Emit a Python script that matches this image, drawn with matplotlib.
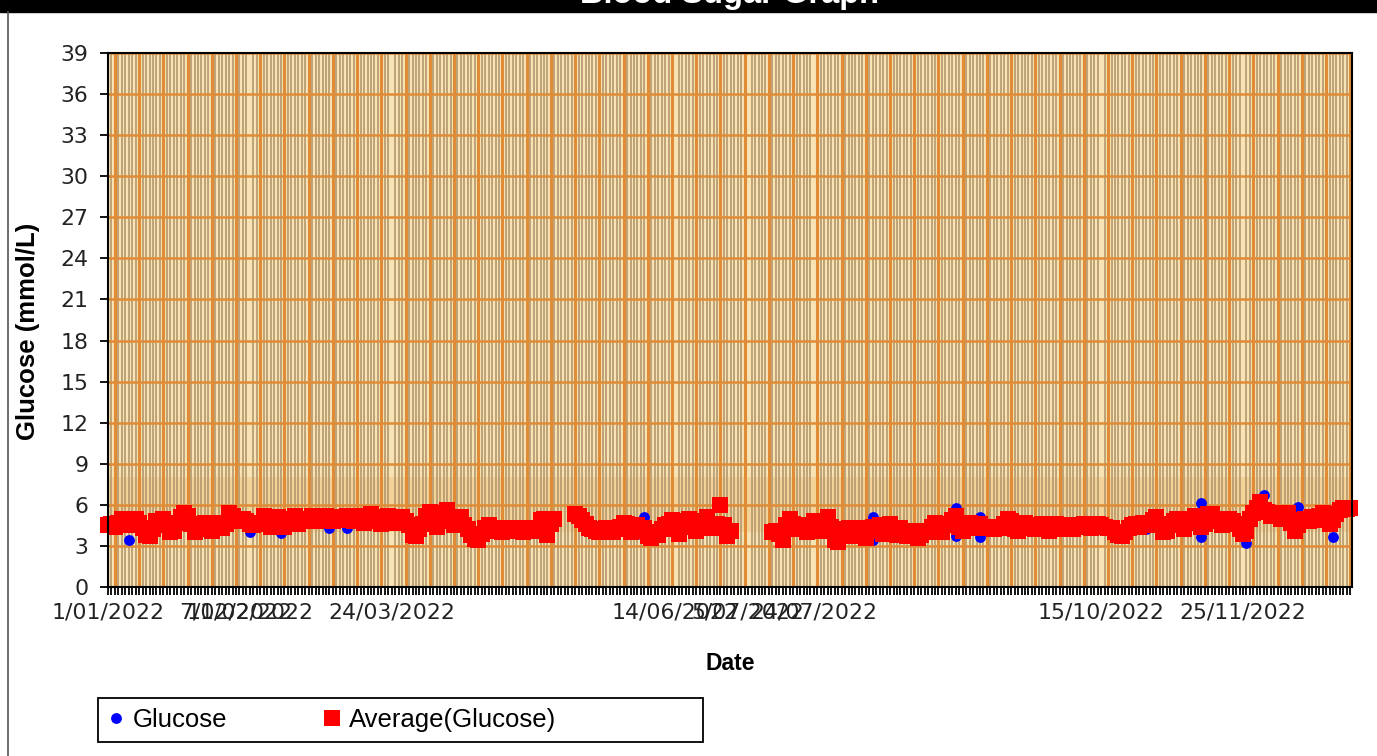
import numpy as np
import matplotlib.pyplot as plt
from matplotlib.patches import Rectangle
from matplotlib.lines import Line2D

# daily average glucose (mmol/L), day 0 = 1/01/2022, None = no reading
avg_glucose = [
    4.5, 4.6, 4.4, 4.7,                                   # 0-3
    5.0, 4.6, 4.5, 4.8, 5.0, 4.7,                         # 4-9
    4.3, 3.8, 3.7, 4.2, 4.8, 4.5,                         # 10-15
    5.0, 4.6, 4.0, 4.1, 4.7, 5.1,                         # 16-21
    5.4, 5.2, 4.6, 4.0, 4.2, 4.4,                         # 22-27
    4.7, 4.4, 4.1, 4.5, 4.7, 4.3, 4.6,                    # 28-34
    5.4, 5.2, 4.9, 4.8, 5.0,                              # 35-39
    4.8, 4.6, 4.5, 4.7, 4.6,                              # 40-44
    5.2, 4.9, 4.4, 4.6, 5.1, 4.8, 4.4, 4.7, 5.0, 5.2, 4.6, 4.8,   # 45-56
    5.0, 4.9, 5.2, 4.8, 4.9, 5.1, 5.2, 4.9, 4.8, 5.1, 5.0, 4.9,   # 57-68
    5.2, 5.0, 4.8, 5.1, 5.2, 4.7, 4.9, 5.3, 5.1, 4.8,     # 69-78
    4.6, 4.9, 5.2, 5.0, 4.7, 4.9, 5.1, 4.8, 4.5,          # 79-87
    3.8, 3.7, 4.2,                                        # 88-90
    4.6, 5.2, 5.5, 4.9, 4.4, 4.8, 5.4, 5.6, 5.0, 4.5, 4.8, 5.1,   # 91-102
    4.5, 4.2, 3.8, 3.5, 3.4, 3.9, 4.3, 4.5, 4.1,          # 103-111
    4.2, 4.3, 4.0, 4.1, 4.3, 4.2, 4.1, 4.3, 4.0, 4.2, 4.3, 4.1, 4.2,  # 112-124
    4.9, 5.0, 3.8, 4.6, 5.0,                              # 125-129
    None, None, None, None, None,                         # 130-134
    5.3, 5.2, 4.9, 4.6, 4.3,                              # 135-139
    4.2, 4.1, 4.0, 4.2, 4.3, 4.1, 4.0, 4.2, 4.4,          # 140-148
    4.7, 4.6, 4.0, 4.1, 4.5, 4.2,                         # 149-154
    4.3, 3.7, 3.6, 4.0, 3.8, 4.2, 4.5,                    # 155-161
    4.6, 4.9, 4.2, 3.9, 4.4, 4.8, 5.0, 4.5, 4.1, 4.3, 4.8, 5.1, 4.6,  # 162-174
    4.3, 4.6, 6.0, 4.5, 3.7, 4.1,                         # 175-180
    None, None, None, None, None, None, None, None, None, None, None,  # 181-191
    4.0, 4.1, 3.9, 3.4, 4.5, 5.0, 4.6, 4.2,               # 192-199
    4.2, 4.5, 4.0, 4.3, 4.8, 4.6, 4.1,                    # 200-206
    4.6, 5.1, 4.4, 3.4, 3.3, 4.0,                         # 207-212
    4.2, 4.3, 3.7, 4.0, 4.3, 4.0, 3.6, 4.1,               # 213-220
    4.4, 4.2, 4.5, 3.9, 4.2, 4.6, 4.0, 3.8, 4.3,          # 221-229
    3.9, 3.7, 4.1, 4.0, 3.6, 3.8, 4.1, 4.0,               # 230-237
    4.4, 4.7, 4.2, 4.0, 4.5, 4.6,                         # 238-243
    4.9, 5.2, 4.4, 4.1, 4.6,                              # 244-248
    4.7, 4.5, 4.3, 4.6, 4.4,                              # 249-253
    4.4, 4.3, 4.2, 4.4, 4.3,                              # 254-258
    4.6, 5.0, 4.8, 4.2, 4.1, 4.5, 4.7, 4.3,               # 259-266
    4.5, 4.2, 4.4, 4.6, 4.3, 4.1, 4.5, 4.6, 4.2, 4.4, 4.5, 4.3, 4.2,  # 267-279
    4.5, 4.4, 4.6, 4.5, 4.3, 4.4, 4.6, 4.5, 4.4, 4.3,     # 280-289
    4.3, 4.0, 3.8, 3.7, 4.0, 4.3,                         # 290-295
    4.5, 4.6, 4.4, 4.7, 4.6, 4.5,                         # 296-301
    4.9, 5.1, 4.6, 4.0, 4.1, 4.5, 4.8, 5.0, 4.6, 4.2, 4.7,  # 302-312
    5.0, 5.2, 4.8, 4.4, 4.6, 5.3,                         # 313-318
    5.3, 5.0, 4.8, 4.5, 4.7, 5.0,                         # 319-324
    4.8, 4.6, 4.2, 3.9, 4.1,                              # 325-329
    5.0, 5.4, 5.8, 6.2, 5.6,                              # 330-334
    5.5, 5.2, 5.4, 5.3, 5.0, 5.2,                         # 335-340
    5.4, 4.7, 4.1, 4.5, 4.9,                              # 341-345
    5.0, 4.8, 5.1, 4.9, 5.2,                              # 346-350
    5.4, 5.0, 4.6, 4.9,                                   # 351-354
    5.3, 5.6, 5.8, 5.7, 5.8,                              # 355-359
]

# individual readings that show outside the average squares
glucose_days = [6, 41, 50, 64, 69, 155, 155, 221, 221, 245, 245,
                252, 252, 300, 316, 316, 329, 334, 344, 354]
glucose_vals = [3.4, 4.0, 3.95, 4.3, 4.3, 5.1, 3.65, 5.1, 3.4, 5.8, 3.7,
                5.1, 3.65, 4.2, 6.1, 3.65, 3.2, 6.7, 5.85, 3.65]

tick_days = [0, 37, 41, 82, 164, 185, 204, 287, 328]
tick_labels = ['1/01/2022', '7/02/2022', '11/02/2022', '24/03/2022',
               '14/06/2022', '5/07/2022', '24/07/2022', '15/10/2022',
               '25/11/2022']

avg = np.array(avg_glucose, dtype=float)
days = np.arange(len(avg))

W, H = 1377, 756
fig = plt.figure(figsize=(W / 100, H / 100), dpi=100)
ax = fig.add_axes([108 / W, 1 - 587 / H, (1352 - 108) / W, (587 - 53) / H])

cream = '#F7E3B4'
tan = '#B4976E'
orange = '#E08C36'
ax.set_facecolor(cream)
ax.axhspan(4, 8, color='#EFAE5A', alpha=0.3, lw=0, zorder=0.1)

ax.set_xlim(0, 359.5)
ax.set_ylim(0, 39)
ax.set_yticks(np.arange(0, 40, 3))
ax.set_xticks(tick_days)
ax.set_xticklabels(tick_labels)
ax.set_xticks(np.arange(0, 360), minor=True)

ax.set_axisbelow(True)
ax.grid(which='minor', axis='x', color=tan, lw=1.2)
ax.grid(which='major', axis='y', color=orange, lw=1.8)
for d in range(2, 360, 7):
    ax.axvline(d, color=orange, lw=2.2, zorder=0.6)

ax.plot(glucose_days, glucose_vals, 'o', color='#0000FF', ms=7.8,
        mew=0, clip_on=False, zorder=3, label='Glucose')
ax.plot(days, avg, 's', color='#FF0000', ms=11.3, mew=0,
        clip_on=False, zorder=4, label='Average(Glucose)')

for s in ax.spines.values():
    s.set_color('black')
    s.set_linewidth(1.5)
    s.set_zorder(5)

ax.tick_params(axis='x', which='both', direction='out', length=6,
               width=1.3, color='black')
ax.tick_params(axis='y', direction='out', length=6, width=1.3,
               color='black', pad=8)
ax.tick_params(axis='x', pad=5)
for lab in ax.get_xticklabels() + ax.get_yticklabels():
    lab.set_fontsize(15.8)
    lab.set_color('#222222')

ax.set_xlabel('Date', fontsize=16.5, fontweight='bold',
              family='Liberation Sans')
ax.xaxis.set_label_coords(0.5, -0.121)
ax.set_ylabel('Glucose (mmol/L)', fontsize=18.5, fontweight='bold',
              family='Liberation Sans')
ax.yaxis.set_label_coords(-0.055, 0.479)

# legend with its own box
fig.add_artist(Rectangle((98 / W, 1 - 742 / H), (703 - 98) / W, 44 / H,
                         transform=fig.transFigure, fill=False,
                         ec='black', lw=1.3))
h, l = ax.get_legend_handles_labels()
fig.legend(h, l, loc='center left', bbox_to_anchor=(103 / W, 1 - 720 / H),
           ncol=2, frameon=False, borderaxespad=0, borderpad=0.2,
           prop={'family': 'Liberation Sans', 'size': 18.5},
           handlelength=0.6, handletextpad=0.35, columnspacing=3.8)

# title bar at the top (title mostly cut off)
fig.add_artist(Rectangle((0, 1 - 12 / H), 1, 12 / H, color='black',
                         transform=fig.transFigure))
fig.text(730 / W, 1 - 3 / H, 'Blood Sugar Graph', color='white',
         fontweight='bold', fontsize=23.5, family='Liberation Sans',
         ha='center', va='baseline')
fig.add_artist(Line2D([8 / W, 8 / W], [0, 1 - 12 / H], color='#555555',
                      lw=1.2, transform=fig.transFigure))

fig.savefig('out.png', dpi=100)
